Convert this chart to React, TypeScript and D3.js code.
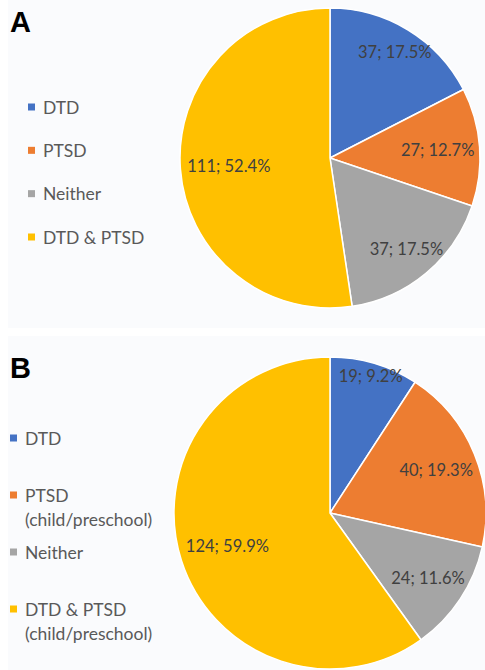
import React, { useEffect, useRef } from 'react';
import * as d3 from 'd3';

// panel A
const categoriesA = ['DTD', 'PTSD', 'Neither', 'DTD & PTSD'];
const countsA = [37, 27, 37, 111];
const percentsA = ['17.5%', '12.7%', '17.5%', '52.4%'];

// panel B
const categoriesB = ['DTD', 'PTSD\n(child/preschool)', 'Neither', 'DTD & PTSD\n(child/preschool)'];
const countsB = [19, 40, 24, 124];
const percentsB = ['9.2%', '19.3%', '11.6%', '59.9%'];

const colors = ['#4472C4', '#ED7D31', '#A5A5A5', '#FFC000'];

const W = 485;
const H = 670;
const labelFont = 'Lato, "Open Sans", sans-serif';

const App = () => {
  const svgRef = useRef(null);

  useEffect(() => {
    const svg = d3.select(svgRef.current);
    svg.selectAll('*').remove();

    svg.append('rect').attr('width', W).attr('height', H).attr('fill', '#ffffff');

    const panels = [
      {
        name: 'A', cats: categoriesA, counts: countsA, pcts: percentsA, sep: '; ',
        top: 0, bottom: 328, cx: 330, cy: 158, r: 150,
        legX: 28, legY: [107, 237], letterY: 32,
      },
      {
        name: 'B', cats: categoriesB, counts: countsB, pcts: percentsB, sep: '; ',
        top: 336, bottom: 670, cx: 330, cy: 513, r: 156,
        legX: 10, legY: [438, 609], letterY: 378,
      },
    ];

    panels.forEach(p => {
      svg.append('rect')
        .attr('x', 8).attr('y', p.top)
        .attr('width', W - 8).attr('height', p.bottom - p.top)
        .attr('fill', '#fafbfd');

      svg.append('text')
        .attr('x', 10).attr('y', p.letterY)
        .attr('font-family', '"Liberation Sans", Arial, sans-serif')
        .attr('font-weight', 'bold')
        .attr('font-size', 29)
        .attr('fill', '#000')
        .text(p.name);

      const pie = d3.pie<number>().sort(null).value(d => d);
      const arcs = pie(p.counts);
      const arc = d3.arc<d3.PieArcDatum<number>>().innerRadius(0).outerRadius(p.r);

      const g = svg.append('g').attr('transform', `translate(${p.cx},${p.cy})`);
      g.selectAll('path')
        .data(arcs)
        .enter()
        .append('path')
        .attr('d', arc)
        .attr('fill', (d, i) => colors[i])
        .attr('stroke', '#ffffff')
        .attr('stroke-width', 1.5)
        .attr('stroke-linejoin', 'round');

      // data labels, pulled in from the rim by their extent along the radius
      arcs.forEach((a, i) => {
        const t = g.append('text')
          .attr('font-family', labelFont)
          .attr('font-size', 16.5)
          .attr('fill', '#404040')
          .attr('text-anchor', 'middle')
          .attr('dominant-baseline', 'central')
          .text(`${p.counts[i]}${p.sep}${p.pcts[i]}`);
        const bb = (t.node() as SVGTextElement).getBBox();
        const mid = (a.startAngle + a.endAngle) / 2;
        const ext = (bb.width / 2) * Math.abs(Math.sin(mid)) + 7 * Math.abs(Math.cos(mid));
        const dist = p.r + 8.5 - 1.36 * ext;
        t.attr('x', dist * Math.sin(mid)).attr('y', -dist * Math.cos(mid));
      });

      // legend
      const y = d3.scalePoint<string>().domain(p.cats).range(p.legY as [number, number]);
      p.cats.forEach((c, i) => {
        const y0 = y(c) as number;
        svg.append('rect')
          .attr('x', p.legX).attr('y', y0 - 3.5)
          .attr('width', 7).attr('height', 7)
          .attr('fill', colors[i]);
        const t = svg.append('text')
          .attr('x', p.legX + 15)
          .attr('y', y0)
          .attr('font-family', labelFont)
          .attr('font-size', 17.5)
          .attr('fill', '#595959');
        c.split('\n').forEach((line, j) => {
          t.append('tspan')
            .attr('x', p.legX + 15)
            .attr('y', y0 + j * 24)
            .attr('dominant-baseline', 'central')
            .text(line);
        });
      });
    });
  }, []);

  return (
    <svg ref={svgRef} width={W} height={H} style={{ position: 'absolute', left: 0, top: 0 }}></svg>
  );
};

export default App;
